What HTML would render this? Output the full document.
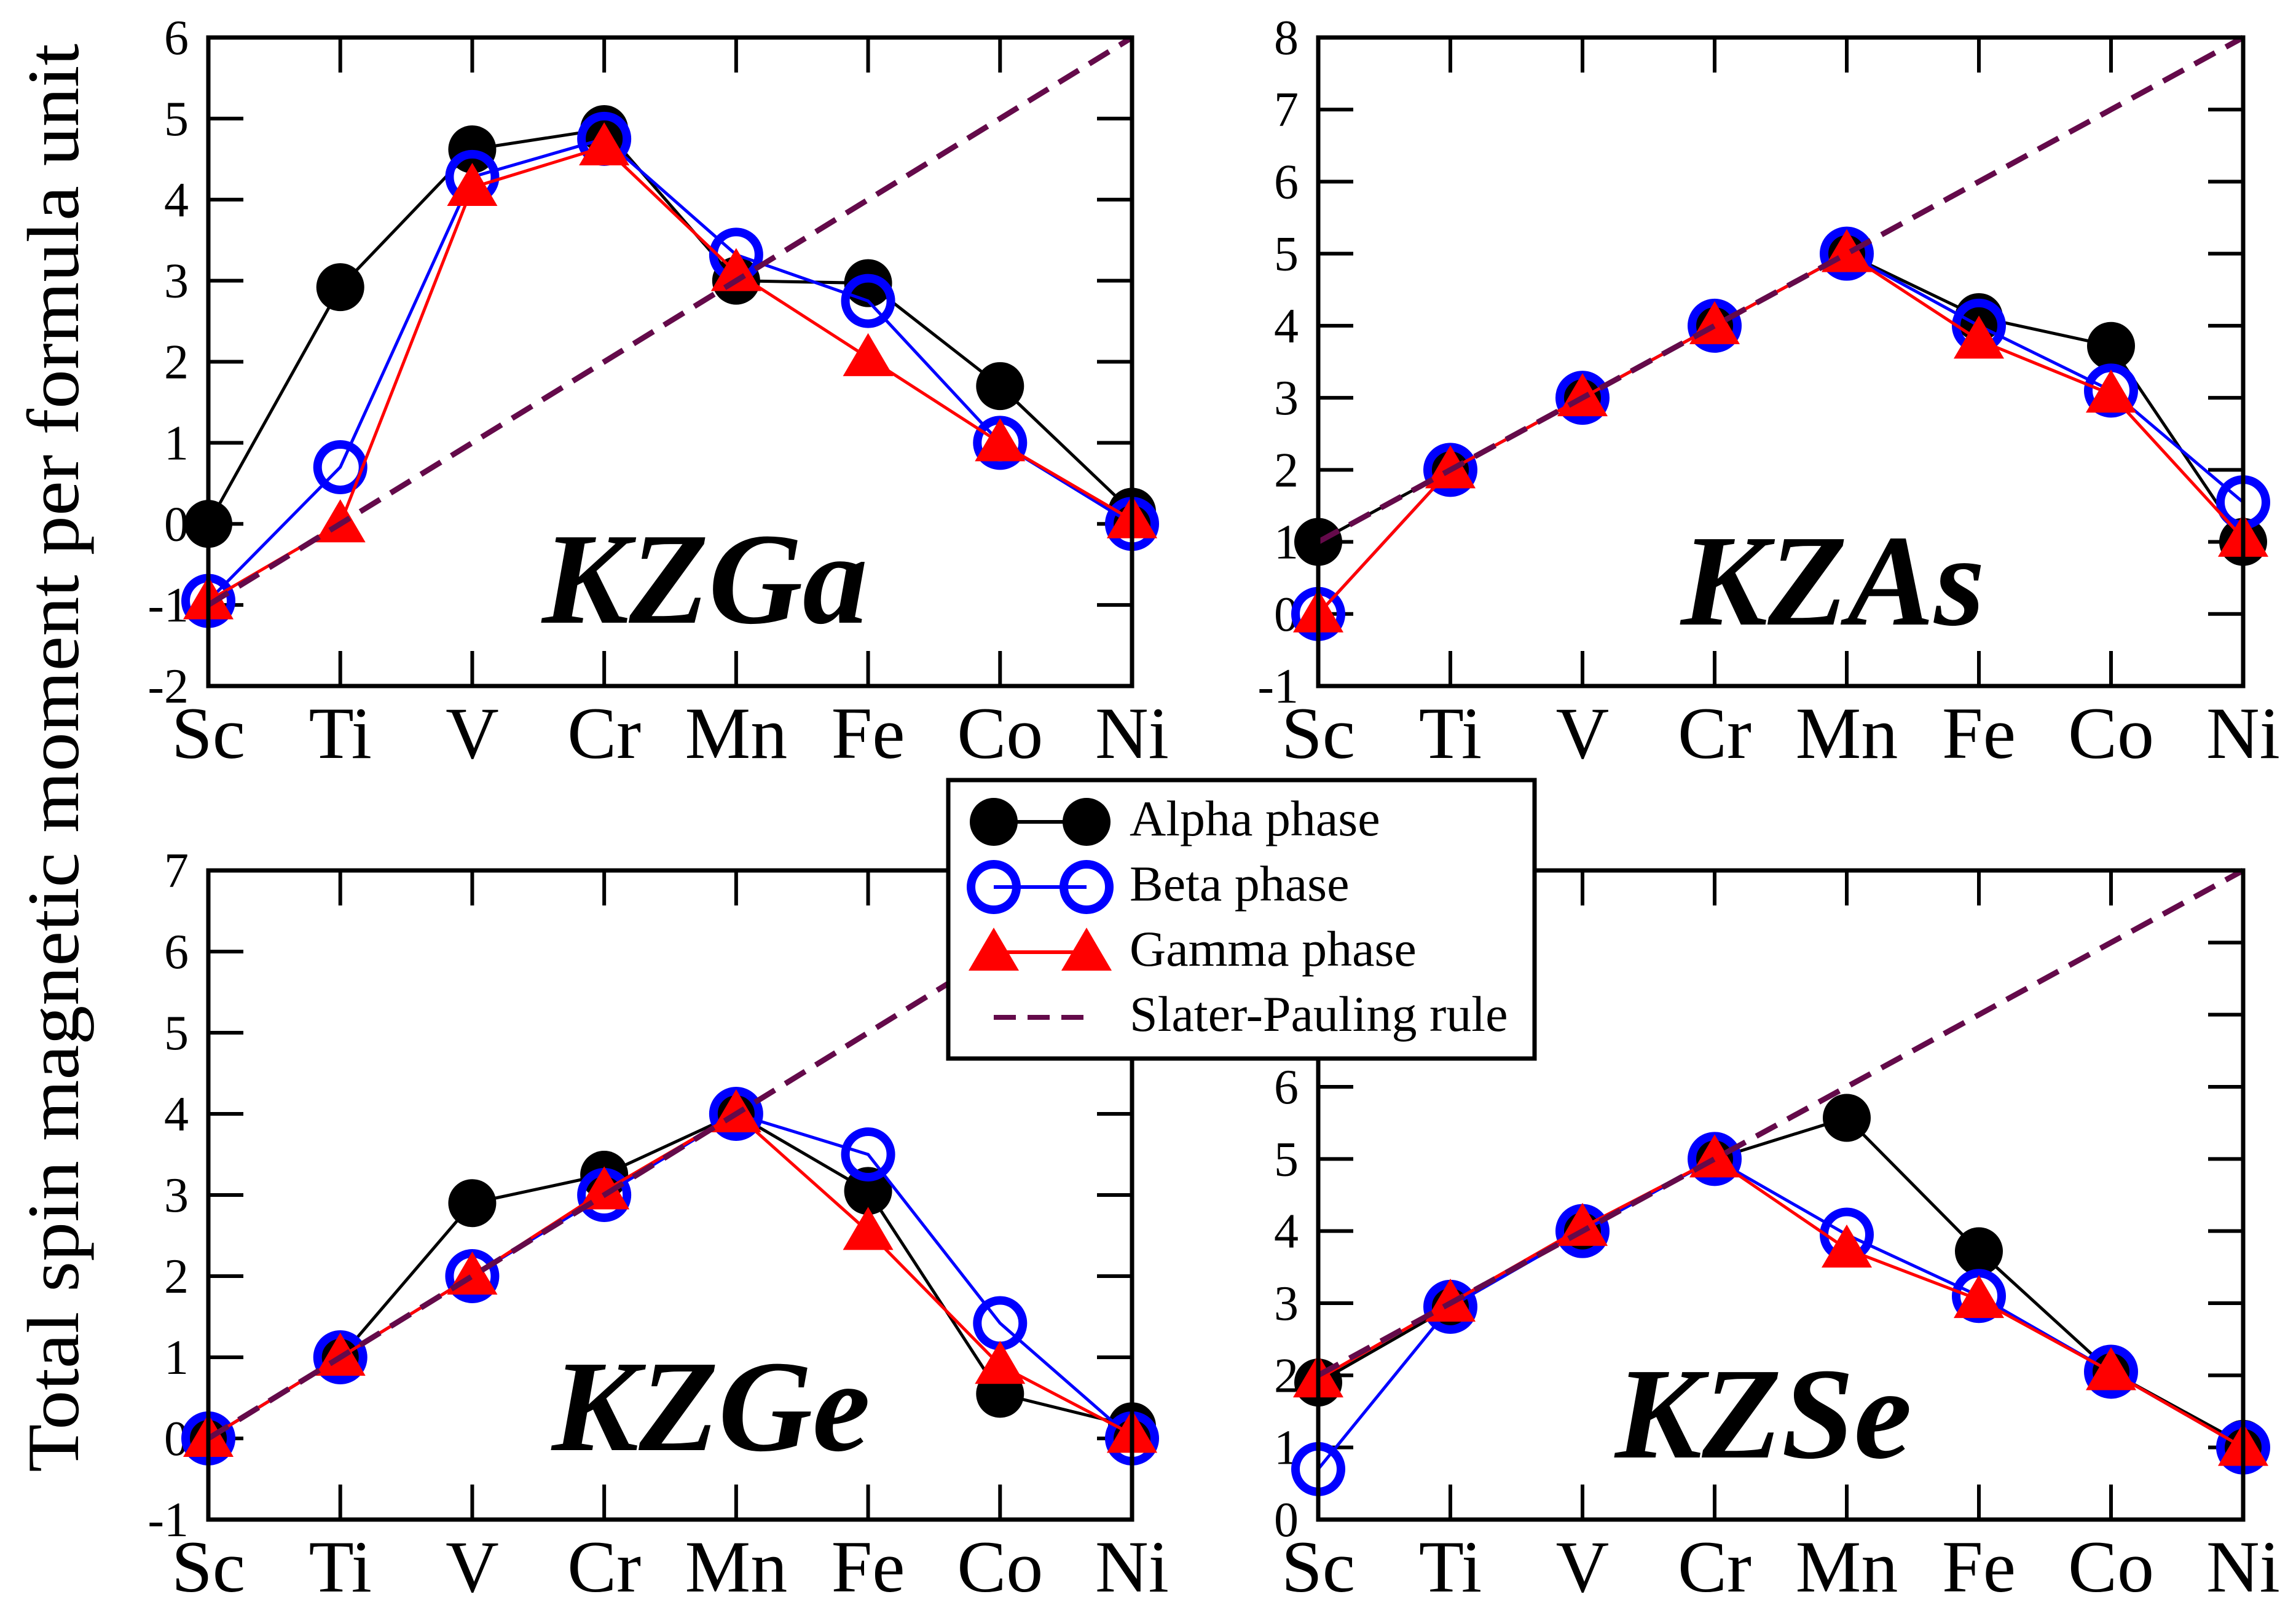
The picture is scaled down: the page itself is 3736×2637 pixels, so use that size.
<!DOCTYPE html>
<html><head><meta charset="utf-8">
<style>
html,body{margin:0;padding:0;background:#fff;}
svg{display:block;font-family:"Liberation Serif",serif;}
svg text{font-family:"Liberation Serif",serif;}
</style></head>
<body>
<svg id="fig" width="3736" height="2637" viewBox="0 0 3736 2637" xmlns="http://www.w3.org/2000/svg" font-family="Liberation Serif, serif">
<rect width="3736" height="2637" fill="#fff"/>
<text transform="translate(127,1233) rotate(-90)" text-anchor="middle" font-family="Liberation Serif, serif" font-size="120" textLength="2324" lengthAdjust="spacingAndGlyphs">Total spin magnetic moment per formula unit</text>
<g id="panels"></g>
<g id="legend"></g>
</svg>
<script>
const categories = ["Sc","Ti","V","Cr","Mn","Fe","Co","Ni"];
const kzgaAlpha = [0, 2.92, 4.62, 4.87, 3.0, 2.97, 1.7, 0.15];
const kzgaBeta  = [-0.95, 0.7, 4.28, 4.75, 3.32, 2.75, 1.0, 0.0];
const kzgaGamma = [-0.95, 0.0, 4.15, 4.65, 3.1, 2.05, 1.0, 0.05];
const kzgaSP    = [-1, 0, 1, 2, 3, 4, 5, 6];
const kzasAlpha = [1, 2, 3, 4, 5, 4.12, 3.72, 1.0];
const kzasBeta  = [0, 2, 3, 4, 5, 4.0, 3.1, 1.55];
const kzasGamma = [0, 2, 3, 4, 5, 3.8, 3.05, 1.05];
const kzasSP    = [1, 2, 3, 4, 5, 6, 7, 8];
const kzgeAlpha = [0, 1, 2.9, 3.25, 4.0, 3.05, 0.55, 0.15];
const kzgeBeta  = [0, 1, 2, 3.0, 4.0, 3.5, 1.42, 0.0];
const kzgeGamma = [0, 1, 2, 3.05, 4.0, 2.55, 0.9, 0.05];
const kzgeSP    = [0, 1, 2, 3, 4, 5, 6, 7];
const kzseAlpha = [1.9, 2.95, 4.0, 5.0, 5.57, 3.72, 2.05, 1.05];
const kzseBeta  = [0.7, 2.95, 4.0, 5.0, 3.95, 3.1, 2.05, 1.0];
const kzseGamma = [1.95, 3.0, 4.05, 5.0, 3.75, 3.05, 2.05, 1.0];
const kzseSP    = [2, 3, 4, 5, 6, 7, 8, 9];
const kzgaTicks = [-2,-1,0,1,2,3,4,5,6];
const kzasTicks = [-1,0,1,2,3,4,5,6,7,8];
const kzgeTicks = [-1,0,1,2,3,4,5,6,7];
const kzseTicks = [0,1,2,3,4,5,6,7,8,9];
const seriesNames = ["Alpha phase","Beta phase","Gamma phase","Slater-Pauling rule"];

const NS="http://www.w3.org/2000/svg";
function mk(tag, attrs, parent){const e=document.createElementNS(NS,tag);for(const k in attrs)e.setAttribute(k,attrs[k]);parent.appendChild(e);return e;}

const panels=[
 {id:"kzga",title:"KZGa",x0:339,x1:1842,y0:61,y1:1116,ticks:kzgaTicks,a:kzgaAlpha,b:kzgaBeta,g:kzgaGamma,sp:kzgaSP,tx:882,ty:1013,hide:[]},
 {id:"kzas",title:"KZAs",x0:2145,x1:3650,y0:61,y1:1116,ticks:kzasTicks,a:kzasAlpha,b:kzasBeta,g:kzasGamma,sp:kzasSP,tx:2735,ty:1016,hide:[]},
 {id:"kzge",title:"KZGe",x0:339,x1:1842,y0:1416,y1:2472,ticks:kzgeTicks,a:kzgeAlpha,b:kzgeBeta,g:kzgeGamma,sp:kzgeSP,tx:898,ty:2359,hide:[]},
 {id:"kzse",title:"KZSe",x0:2145,x1:3650,y0:1416,y1:2472,ticks:kzseTicks,a:kzseAlpha,b:kzseBeta,g:kzseGamma,sp:kzseSP,tx:2628,ty:2371,hide:[7,8,9]}
];
const root=document.getElementById("panels");

function circle(g,x,y,open){
  const c=mk("circle",{cx:x,cy:y,r:open?37:39,fill:open?"none":"#000",stroke:open?"#0000ff":"none","stroke-width":open?14:0},g);
  
  
}
function tri(g,x,y){
  const p=mk("polygon",{points:`${x},${y-40} ${x+41},${y+30} ${x-41},${y+30}`,fill:"#ff0000"},g);
  
  
}

panels.forEach(P=>{
  const g=mk("g",{},root);
  
  
  const lo=P.ticks[0], hi=P.ticks[P.ticks.length-1];
  const xs=i=>P.x0+(P.x1-P.x0)*i/(categories.length-1);
  const ys=v=>P.y1-(P.y1-P.y0)*(v-lo)/(hi-lo);
  P.ticks.forEach(t=>{
    const y=ys(t);
    if(t!==lo && t!==hi){
      mk("line",{x1:P.x0,y1:y,x2:P.x0+57,y2:y,stroke:"#000","stroke-width":6},g);
      mk("line",{x1:P.x1,y1:y,x2:P.x1-57,y2:y,stroke:"#000","stroke-width":6},g);
    }
    if(P.hide.indexOf(t)<0){
      const tl=mk("text",{x:P.x0-32,y:y+27,"text-anchor":"end","font-size":80},g);
      tl.textContent=String(t);
      
      
    }
  });
  categories.forEach((c,i)=>{
    const x=xs(i);
    if(i>0&&i<categories.length-1){
      mk("line",{x1:x,y1:P.y0,x2:x,y2:P.y0+57,stroke:"#000","stroke-width":6},g);
      mk("line",{x1:x,y1:P.y1,x2:x,y2:P.y1-57,stroke:"#000","stroke-width":6},g);
    }
    const tl=mk("text",{x:x,y:P.y1+117,"text-anchor":"middle","font-size":120},g);
    tl.textContent=c;
    
    
  });
  const tt=mk("text",{x:P.tx,y:P.ty,"font-size":212,"font-weight":"bold","font-style":"italic"},g);
  tt.textContent=P.title;
  
  
  const pts=arr=>arr.map((v,i)=>xs(i)+","+ys(v)).join(" ");
  const la=mk("polyline",{points:pts(P.a),fill:"none",stroke:"#000","stroke-width":5},g);
  
  
  P.a.forEach((v,i)=>circle(g,xs(i),ys(v),false));
  const lb=mk("polyline",{points:pts(P.b),fill:"none",stroke:"#0000ff","stroke-width":5},g);
  
  
  P.b.forEach((v,i)=>circle(g,xs(i),ys(v),true));
  const lg=mk("polyline",{points:pts(P.g),fill:"none",stroke:"#ff0000","stroke-width":5},g);
  
  
  P.g.forEach((v,i)=>tri(g,xs(i),ys(v)));
  const ls=mk("polyline",{points:pts(P.sp),fill:"none",stroke:"#640a4a","stroke-width":9,"stroke-dasharray":"38 20"},g);
  
  
  const fr=mk("rect",{x:P.x0,y:P.y0,width:P.x1-P.x0,height:P.y1-P.y0,fill:"none",stroke:"#000","stroke-width":7},g);
  
  
});

const L=document.getElementById("legend");
mk("rect",{x:1543,y:1269,width:954,height:453,fill:"#fff",stroke:"#000","stroke-width":7},L);
const rowsY=[1337,1443,1549,1655];
const mx1=1617,mx2=1768;
seriesNames.forEach((n,k)=>{
  const y=rowsY[k];
  const eg=mk("g",{},L);
  
  
  if(k===0){mk("line",{x1:mx1,y1:y,x2:mx2,y2:y,stroke:"#000","stroke-width":6},eg);circle(eg,mx1,y,false);circle(eg,mx2,y,false);}
  if(k===1){mk("line",{x1:mx1,y1:y,x2:mx2,y2:y,stroke:"#0000ff","stroke-width":6},eg);circle(eg,mx1,y,true);circle(eg,mx2,y,true);}
  if(k===2){mk("line",{x1:mx1,y1:y,x2:mx2,y2:y,stroke:"#ff0000","stroke-width":6},eg);tri(eg,mx1,y);tri(eg,mx2,y);}
  if(k===3){mk("line",{x1:mx1,y1:y,x2:mx2+10,y2:y,stroke:"#640a4a","stroke-width":8,"stroke-dasharray":"36 19"},eg);}
  const t=mk("text",{x:1838,y:y+22,"font-size":82},eg);
  t.textContent=n;
  
  
});
</script>
</body></html>
